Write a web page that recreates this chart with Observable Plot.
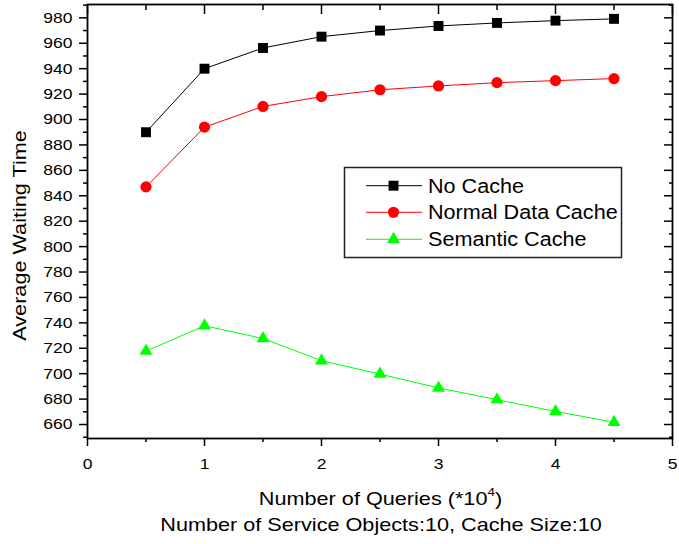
<!DOCTYPE html>
<html>
<head>
<meta charset="utf-8">
<script src="https://cdn.jsdelivr.net/npm/d3@7"></script>
<script src="https://cdn.jsdelivr.net/npm/@observablehq/plot@0.6"></script>
<style>
  body { margin: 0; background: #fff; }
  #chart { font-family: "Liberation Sans", Arial, sans-serif; }
</style>
</head>
<body>
<div id="chart"></div>
<script>
const queries = [0.5, 1, 1.5, 2, 2.5, 3, 3.5, 4, 4.5];
const noCache = [890, 940, 956.3, 965.2, 970, 973.6, 976, 977.8, 979.2];
const normalCache = [847, 894, 910.3, 918, 923.4, 926.4, 929, 930.6, 932.2];
const semanticCache = [717.8, 737.7, 727.7, 710.2, 699.7, 688.8, 679.6, 670.3, 661.8];
const seriesNames = ["No Cache", "Normal Data Cache", "Semantic Cache"];
const seriesColors = ["#000000", "#ff0000", "#00ff00"];
const seriesSymbols = ["square", "circle", "triangle"];
const seriesRadius = [5.6, 5.6, 4.8];
const xMajorTicks = [0, 1, 2, 3, 4, 5];
const xMinorTicks = [0.5, 1.5, 2.5, 3.5, 4.5];
const yMajorTicks = [660, 680, 700, 720, 740, 760, 780, 800, 820, 840, 860, 880, 900, 920, 940, 960, 980];
const yMinorTicks = [650, 670, 690, 710, 730, 750, 770, 790, 810, 830, 850, 870, 890, 910, 930, 950, 970, 990];
const xTitleMain = "Number of Queries (*10";
const xTitleSup = "4";
const xTitleEnd = ")";
const xSubtitle = "Number of Service Objects:10, Cache Size:10";
const yTitle = "Average Waiting Time";

const allValues = [noCache, normalCache, semanticCache];
const rows = [];
seriesNames.forEach((name, i) => {
  queries.forEach((q, j) => rows.push({series: name, x: q, y: allValues[i][j], r: seriesRadius[i]}));
});

const tickStyle = {strokeWidth: 1.5, stroke: "#000", label: null};

const chart = Plot.plot({
  width: 679,
  height: 544,
  marginLeft: 87,
  marginRight: 7,
  marginTop: 4,
  marginBottom: 106,
  style: {fontFamily: "'Liberation Sans', Arial, sans-serif", fontSize: "15.5px", background: "#fff", color: "#000"},
  x: {domain: [0, 5]},
  y: {domain: [649, 990.5]},
  r: {type: "identity"},
  color: {domain: seriesNames, range: seriesColors},
  symbol: {domain: seriesNames, range: seriesSymbols},
  marks: [
    Plot.axisX(xMajorTicks, {anchor: "bottom", tickSize: 8, tickPadding: 11, fontSize: 15.5, tickFormat: d => String(d), ...tickStyle}),
    Plot.axisX(xMinorTicks, {anchor: "bottom", tickSize: 4, fill: "none", ...tickStyle}),
    Plot.axisX(xMajorTicks, {anchor: "top", tickSize: -9, fill: "none", ...tickStyle}),
    Plot.axisX(xMinorTicks, {anchor: "top", tickSize: -5, fill: "none", ...tickStyle}),
    Plot.axisY(yMajorTicks, {anchor: "left", tickSize: 8, tickPadding: 7, fontSize: 15.5, tickFormat: d => String(d), ...tickStyle}),
    Plot.axisY(yMinorTicks, {anchor: "left", tickSize: 4, fill: "none", ...tickStyle}),
    Plot.axisY(yMajorTicks, {anchor: "right", tickSize: -9, fill: "none", ...tickStyle}),
    Plot.axisY(yMinorTicks, {anchor: "right", tickSize: -4, fill: "none", ...tickStyle}),
    Plot.frame({stroke: "#000", strokeWidth: 1.8}),
    Plot.line(rows, {x: "x", y: "y", z: "series", stroke: "series", strokeWidth: 1}),
    Plot.dot(rows, {x: "x", y: "y", fill: "series", symbol: "series", r: "r", stroke: null}),
    Plot.text([xSubtitle], {text: d => d, frameAnchor: "bottom", dx: 1, dy: 92, lineAnchor: "bottom", fontSize: 18.5}),
    Plot.text([yTitle], {text: d => d, frameAnchor: "left", rotate: -90, dx: -62, dy: 14, lineAnchor: "bottom", textAnchor: "middle", fontSize: 18.5})
  ]
});
document.getElementById("chart").appendChild(chart);

const svg = d3.select(chart);

// Horizontal widening of text, matching the reference's wide lettering
function stretch(selection, k) {
  selection.each(function() {
    const len = this.getComputedTextLength();
    if (len > 0) {
      this.setAttribute("textLength", (len * k).toFixed(2));
      this.setAttribute("lengthAdjust", "spacingAndGlyphs");
    }
  });
}

// X axis title with superscript exponent
const xt = svg.append("text")
  .attr("x", 380.5).attr("y", 505)
  .attr("text-anchor", "middle")
  .attr("font-size", 18.5).attr("fill", "#000");
xt.append("tspan").text(xTitleMain);
xt.append("tspan").attr("font-size", 11.5).attr("dy", -9).text(xTitleSup);
xt.append("tspan").attr("dy", 9).text(xTitleEnd);

// Legend box drawn inside the plot area
const lg = svg.append("g").attr("class", "legend");
lg.append("rect")
  .attr("x", 344.5).attr("y", 167.5).attr("width", 277).attr("height", 90)
  .attr("fill", "#fff").attr("stroke", "#222").attr("stroke-width", 1.5);
const rowY = [185.7, 212.3, 239.3];
const symMap = {square: d3.symbolSquare, circle: d3.symbolCircle, triangle: d3.symbolTriangle};
seriesNames.forEach((name, i) => {
  const g = lg.append("g").attr("transform", `translate(0,${rowY[i]})`);
  g.append("line").attr("x1", 366).attr("x2", 422).attr("y1", 0).attr("y2", 0)
    .attr("stroke", seriesColors[i]).attr("stroke-width", 1);
  const r = seriesRadius[i];
  g.append("path")
    .attr("d", d3.symbol(symMap[seriesSymbols[i]], r * r * Math.PI)())
    .attr("transform", "translate(393.5,0)")
    .attr("fill", seriesColors[i]);
  g.append("text").attr("class", "legend-label").attr("x", 428).attr("y", 0).attr("dy", "0.35em")
    .attr("text-anchor", "start")
    .attr("font-size", 20).attr("fill", "#000").text(name);
});

stretch(svg.selectAll('g[aria-label="x-axis tick label"] text, g[aria-label="y-axis tick label"] text'), 1.13);
stretch(svg.selectAll('g[aria-label="text"] text'), 1.17);
stretch(xt, 1.17);
stretch(lg.selectAll("text.legend-label"), 1.08);
</script>
</body>
</html>
